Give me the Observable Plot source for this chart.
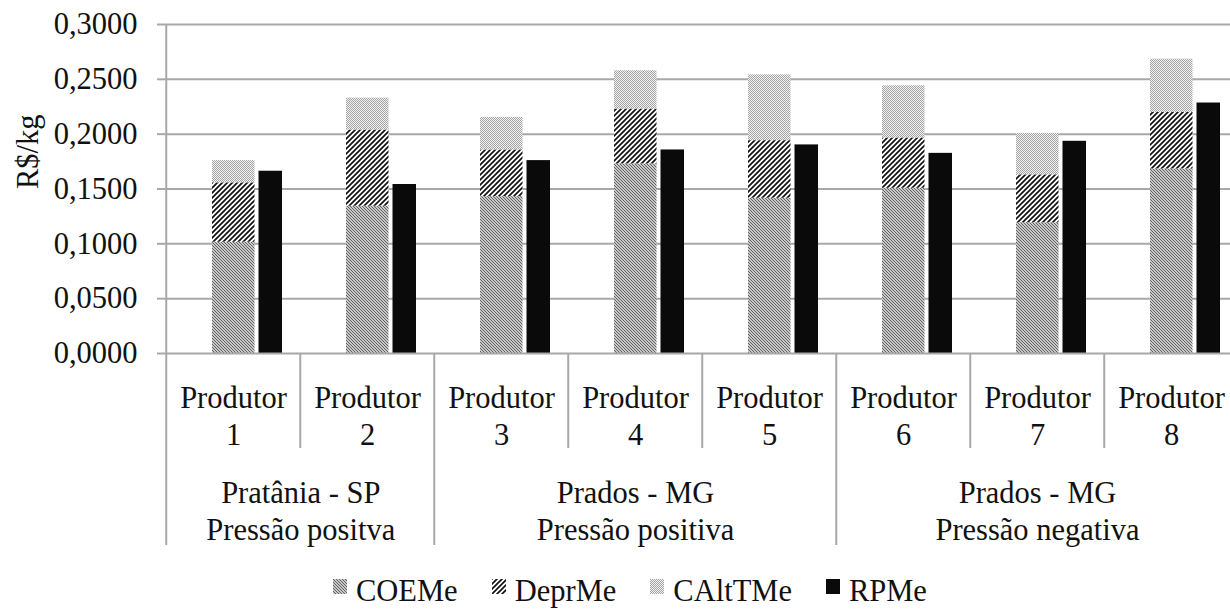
<!DOCTYPE html>
<html><head><meta charset="utf-8">
<script src="https://cdn.jsdelivr.net/npm/d3@7"></script>
<script src="https://cdn.jsdelivr.net/npm/@observablehq/plot@0.6"></script>
<style>
body{margin:0;background:#fff;overflow:hidden}
#chart{position:relative;width:1230px;height:609px;overflow:hidden;font-family:"Liberation Serif","Times New Roman",serif}
#legend{position:absolute;left:333px;top:574px;display:flex;font-size:30.5px;line-height:34px;color:#111;white-space:nowrap}
.item{display:flex;align-items:baseline;margin-right:34px}
.item svg{margin-right:9px;position:relative;top:-7px}
</style></head>
<body>
<svg width="0" height="0" style="position:absolute">
  <defs>
    <pattern id="pCOE" patternUnits="userSpaceOnUse" width="3" height="3">
      <rect width="3" height="3" fill="#f4f4f4"/>
      <path d="M0,0 L3,3 M-1,2 L1,4 M2,-1 L4,1" stroke="#5a5a5a" stroke-width="1.1"/>
    </pattern>
    <pattern id="pDEP" patternUnits="userSpaceOnUse" width="5" height="5">
      <rect width="5" height="5" fill="#fff"/>
      <path d="M0,5 L5,0 M-1,1 L1,-1 M4,6 L6,4" stroke="#111" stroke-width="1.7"/>
    </pattern>
    <pattern id="pCAL" patternUnits="userSpaceOnUse" width="2" height="2">
      <rect width="2" height="2" fill="#f2f2f2"/>
      <rect width="1" height="1" fill="#a4a4a4"/>
      <rect x="1" y="1" width="1" height="1" fill="#a4a4a4"/>
    </pattern>
  </defs>
</svg>
<div id="chart"></div>
<script>
const producers = ["Produtor 1","Produtor 2","Produtor 3","Produtor 4","Produtor 5","Produtor 6","Produtor 7","Produtor 8"];
const series = ["COEMe","DeprMe","CAltTMe","RPMe"];
const coeme   = [0.1015,0.1343,0.1431,0.1729,0.1416,0.1507,0.1192,0.1683];
const deprme  = [0.0541,0.0695,0.0425,0.0500,0.0525,0.0458,0.0437,0.0515];
const caltme  = [0.0203,0.0291,0.0297,0.0349,0.0600,0.0476,0.0378,0.0486];
const rpme    = [0.1662,0.1541,0.1759,0.1856,0.1902,0.1825,0.1935,0.2284];
const groupLabels = ["Pratânia - SP\nPressão positva","Prados - MG\nPressão positiva","Prados - MG\nPressão negativa"];
const groupSizes = [2,3,3];
const yTicks = [0,0.05,0.10,0.15,0.20,0.25,0.30];
const yLabel = "R$/kg";

const fills = {COEMe:"url(#pCOE)", DeprMe:"url(#pDEP)", CAltTMe:"url(#pCAL)", RPMe:"#0a0a0a"};
const stacked = producers.flatMap((p,i)=>[
  {producer:p, series:"COEMe", value:coeme[i]},
  {producer:p, series:"DeprMe", value:deprme[i]},
  {producer:p, series:"CAltTMe", value:caltme[i]}
]);
const rp = producers.map((p,i)=>({producer:p, value:rpme[i]}));

const groupStarts = []; let acc = 0;
for (const s of groupSizes) { groupStarts.push(acc); acc += s; }
const groupInfo = groupLabels.map((g,i)=>{
  const s = groupStarts[i], n = groupSizes[i];
  return {label:g, anchor: producers[s + Math.floor((n-1)/2)], even: n % 2 === 0};
});
const longDiv = producers.filter((p,i)=> i>0 && groupStarts.includes(i));
const shortDiv = producers.filter((p,i)=> i>0 && !groupStarts.includes(i));

const W = 1230, H = 560, mL = 164, mR = -10, mT = 24, mB = 207;
const bw = (W - mR - mL) / producers.length;
const grid = "#a8a8a8";
const fs = 30.5;
const fmt = d => d.toFixed(4).replace(".", ",");

const plot = Plot.plot({
  width: W, height: H,
  marginLeft: mL, marginRight: mR, marginTop: mT, marginBottom: mB,
  style: {fontFamily: "'Liberation Serif','Times New Roman',serif", fontSize: fs + "px", color: "#111", background: "white", overflow: "visible"},
  x: {domain: producers, padding: 0, axis: null},
  y: {domain: [0, 0.3], axis: null},
  color: {domain: series, range: series.map(s=>fills[s])},
  marks: [
    Plot.ruleY(yTicks.filter(d=>d>0), {stroke: grid, strokeWidth: 2}),
    Plot.barY(stacked, {x: "producer", y: "value", fill: "series", insetLeft: 46, insetRight: 45.5}),
    Plot.barY(rp, {x: "producer", y: "value", fill: fills.RPMe, insetLeft: 92.5, insetRight: 18}),
    Plot.ruleY([0], {stroke: grid, strokeWidth: 2}),
    Plot.ruleX([producers[0]], {x: d=>d, dx: -bw/2, stroke: grid, strokeWidth: 2, insetBottom: -192}),
    Plot.ruleX(shortDiv, {x: d=>d, dx: -bw/2, stroke: grid, strokeWidth: 2, insetTop: H-mT-mB, insetBottom: -95}),
    Plot.ruleX(longDiv, {x: d=>d, dx: -bw/2, stroke: grid, strokeWidth: 2, insetTop: H-mT-mB, insetBottom: -192}),
    Plot.axisY({ticks: yTicks, tickFormat: fmt, tickSize: 7, tickPadding: 20, stroke: grid, strokeWidth: 2, fill: "#111", fontSize: fs, label: null}),
    Plot.text([yLabel], {frameAnchor: "left", rotate: -90, dx: -136, fontSize: fs, fill: "#111"}),
    Plot.text(producers, {x: d=>d, text: d=>d.replace(" ", "\n"), frameAnchor: "bottom", dy: 28.3, lineAnchor: "top", lineHeight: 1.21, fontSize: fs, fill: "#111"}),
    Plot.text(groupInfo.filter(g=>g.even), {x: "anchor", text: "label", dx: bw/2, frameAnchor: "bottom", dy: 123.3, lineAnchor: "top", lineHeight: 1.21, fontSize: fs, fill: "#111"}),
    Plot.text(groupInfo.filter(g=>!g.even), {x: "anchor", text: "label", frameAnchor: "bottom", dy: 123.3, lineAnchor: "top", lineHeight: 1.21, fontSize: fs, fill: "#111"})
  ]
});

const chart = document.getElementById("chart");
chart.appendChild(plot);

const legend = document.createElement("div");
legend.id = "legend";
for (const s of series) {
  const item = document.createElement("div");
  item.className = "item";
  const sw = d3.create("svg").attr("width", 14).attr("height", 15);
  sw.append("rect").attr("width", 14).attr("height", 15).attr("fill", fills[s]);
  item.appendChild(sw.node());
  const t = document.createElement("span");
  t.textContent = s;
  item.appendChild(t);
  legend.appendChild(item);
}
chart.appendChild(legend);
</script>
</body></html>
